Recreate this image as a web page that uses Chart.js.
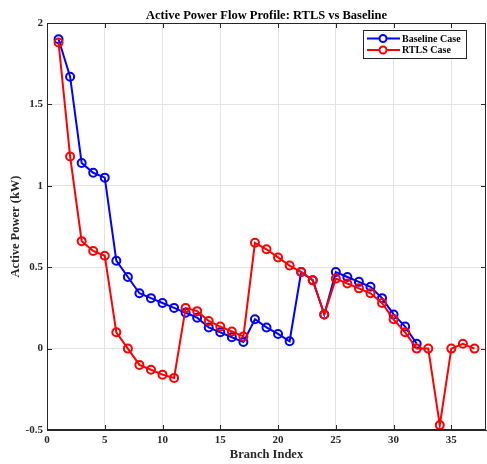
<!DOCTYPE html>
<html>
<head>
<meta charset="utf-8">
<script src="https://cdn.jsdelivr.net/npm/chart.js@4.4.1/dist/chart.umd.min.js"></script>
<style>
  html, body { margin: 0; padding: 0; background: #fff; }
  #wrap { width: 487px; height: 464px; }
</style>
</head>
<body>
<div id="wrap"><canvas id="chart" width="487" height="464"></canvas></div>
<script>
// Branch indices
const baselineBranches = [1, 2, 3, 4, 5, 6, 7, 8, 9, 10, 11, 12, 13, 14, 15, 16,
    17, 18, 19, 20, 21, 22, 23, 24, 25, 26, 27, 28, 29, 30, 31, 32];
const rtlsBranches = [1, 2, 3, 4, 5, 6, 7, 8, 9, 10, 11, 12, 13, 14, 15, 16,
    17, 18, 19, 20, 21, 22, 23, 24, 25, 26, 27, 28, 29, 30, 31, 32, 33, 34, 35, 36, 37];

// Active power (kW)
const baselinePower = [1.90, 1.67, 1.14, 1.08, 1.05, 0.54, 0.44, 0.34, 0.31, 0.28,
    0.25, 0.22, 0.19, 0.13, 0.10, 0.07, 0.04, 0.18, 0.13, 0.09, 0.045, 0.47,
    0.42, 0.21, 0.47, 0.44, 0.41, 0.38, 0.31, 0.21, 0.135, 0.03];
const rtlsPower = [1.88, 1.18, 0.66, 0.60, 0.57, 0.10, 0.00, -0.10, -0.13, -0.16,
    -0.18, 0.25, 0.23, 0.17, 0.135, 0.105, 0.075, 0.65, 0.61, 0.56, 0.51, 0.47,
    0.42, 0.21, 0.43, 0.40, 0.37, 0.34, 0.28, 0.18, 0.10, 0.00, 0.00, -0.47,
    0.00, 0.03, 0.00];

const xTicks = [0, 5, 10, 15, 20, 25, 30, 35];
const yTicks = [-0.5, 0, 0.5, 1, 1.5, 2];

const FONT = "'Liberation Serif', 'DejaVu Serif', serif";
const AXIS_COLOR = "#262626";

const toPoints = (xs, ys) => xs.map((x, i) => ({ x: x, y: ys[i] }));

// box, inward ticks and legend drawn MATLAB-style
const framePlugin = {
    id: "frame",
    afterDatasetsDraw(chart) {
        const { ctx, chartArea: a, scales } = chart;
        ctx.save();
        ctx.strokeStyle = AXIS_COLOR;
        ctx.lineWidth = 1;
        ctx.strokeRect(a.left + 0.5, a.top + 0.5, a.right - a.left - 1, a.bottom - a.top - 1);

        const tl = 5;
        ctx.beginPath();
        xTicks.forEach((v) => {
            const px = Math.round(scales.x.getPixelForValue(v)) + 0.5;
            ctx.moveTo(px, a.bottom); ctx.lineTo(px, a.bottom - tl);
            ctx.moveTo(px, a.top); ctx.lineTo(px, a.top + tl);
        });
        yTicks.forEach((v) => {
            const py = Math.round(scales.y.getPixelForValue(v)) + 0.5;
            ctx.moveTo(a.left, py); ctx.lineTo(a.left + tl, py);
            ctx.moveTo(a.right, py); ctx.lineTo(a.right - tl, py);
        });
        ctx.stroke();

        // legend box
        const lx = 363, ly = 30, lw = 103, lh = 28;
        ctx.fillStyle = "#fff";
        ctx.fillRect(lx, ly, lw, lh);
        ctx.strokeStyle = AXIS_COLOR;
        ctx.strokeRect(lx + 0.5, ly + 0.5, lw, lh);
        const items = chart.data.datasets;
        items.forEach((ds, i) => {
            const y = ly + 8.5 + i * 11.5;
            ctx.strokeStyle = ds.borderColor;
            ctx.lineWidth = 2;
            ctx.beginPath();
            ctx.moveTo(lx + 4, y); ctx.lineTo(lx + 37, y);
            ctx.stroke();
            ctx.beginPath();
            ctx.arc(lx + 20, y, 3.5, 0, Math.PI * 2);
            ctx.fillStyle = "#fff";
            ctx.fill();
            ctx.stroke();
            ctx.fillStyle = "#000";
            ctx.font = "bold 10px " + FONT;
            ctx.textBaseline = "middle";
            ctx.textAlign = "left";
            ctx.fillText(ds.label, lx + 39, y + 0.5);
        });
        ctx.restore();
    },
};

new Chart(document.getElementById("chart"), {
    type: "line",
    data: {
        datasets: [
            {
                label: "Baseline Case",
                data: toPoints(baselineBranches, baselinePower),
                borderColor: "#0000ff",
                backgroundColor: "#fff",
                pointBackgroundColor: "rgba(255,255,255,0)",
                borderWidth: 2,
                pointRadius: 4,
                pointBorderWidth: 2,
                tension: 0,
                order: 1,
            },
            {
                label: "RTLS Case",
                data: toPoints(rtlsBranches, rtlsPower),
                borderColor: "#ff0000",
                backgroundColor: "#fff",
                pointBackgroundColor: "rgba(255,255,255,0)",
                borderWidth: 2,
                pointRadius: 4,
                pointBorderWidth: 2,
                tension: 0,
                order: 0,
            },
        ],
    },
    options: {
        responsive: false,
        animation: false,
        layout: { autoPadding: false, padding: { top: 0, right: 1, left: 0, bottom: 0 } },
        plugins: {
            legend: { display: false },
            tooltip: { enabled: false },
            title: {
                display: true,
                fullSize: false,
                text: "Active Power Flow Profile: RTLS vs Baseline",
                color: "#000",
                font: { family: FONT, size: 12.5, weight: "bold" },
                padding: { top: 8, bottom: 0 },
            },
        },
        scales: {
            x: {
                type: "linear",
                min: 0,
                max: 38,
                afterFit: (s) => { s.height = 34; s.paddingLeft = 0; s.paddingRight = 0; },
                afterBuildTicks: (s) => { s.ticks = xTicks.map((v) => ({ value: v })); },
                ticks: {
                    includeBounds: false,
                    color: AXIS_COLOR,
                    font: { family: FONT, size: 11, weight: "bold" },
                    padding: 4,
                    maxRotation: 0,
                },
                grid: { color: "#e3e3e3", drawTicks: false },
                border: { display: true, color: AXIS_COLOR },
                title: {
                    display: true,
                    text: "Branch Index",
                    color: AXIS_COLOR,
                    font: { family: FONT, size: 12.5, weight: "bold" },
                    padding: { top: 0, bottom: 2 },
                },
            },
            y: {
                min: -0.5,
                max: 2,
                afterFit: (s) => { s.width = 47; },
                afterBuildTicks: (s) => { s.ticks = yTicks.map((v) => ({ value: v })); },
                ticks: {
                    color: AXIS_COLOR,
                    font: { family: FONT, size: 11, weight: "bold" },
                    padding: 4,
                    callback: (v) => String(v),
                },
                grid: { color: "#e3e3e3", drawTicks: false },
                border: { display: true, color: AXIS_COLOR },
                title: {
                    display: true,
                    text: "Active Power (kW)",
                    color: AXIS_COLOR,
                    font: { family: FONT, size: 12.5, weight: "bold" },
                    padding: { top: 8, bottom: 0 },
                },
            },
        },
    },
    plugins: [framePlugin],
});
</script>
</body>
</html>
